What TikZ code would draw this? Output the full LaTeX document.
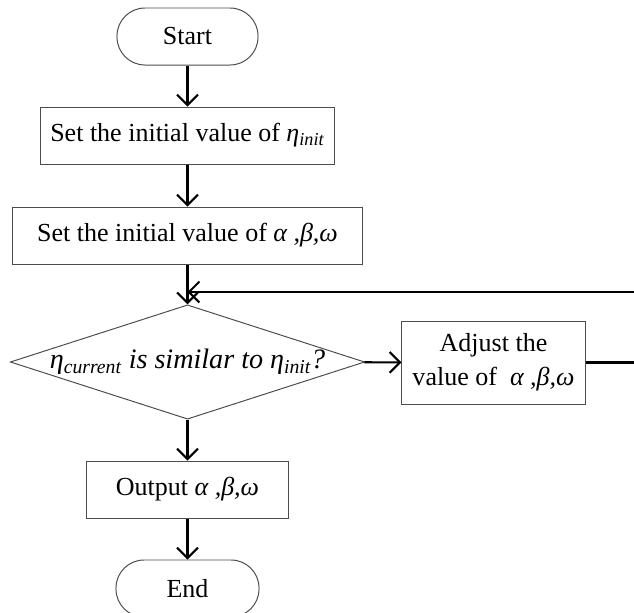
\documentclass[tikz,border=0pt]{standalone}
\usepackage{fontspec}
\setmainfont{Liberation Serif}
\usetikzlibrary{shapes.geometric,arrows.meta}

\tikzset{
  terminal/.style={draw=black!70, line width=0.7pt, rectangle, rounded corners=0.7cm,
    minimum height=1.425cm},
  process/.style={draw=black!70, line width=0.7pt, rectangle, minimum height=1.425cm, align=center},
  decision/.style={draw=black!70, line width=0.7pt, diamond, aspect=3.1, inner sep=0pt,
    minimum width=8.725cm, minimum height=2.775cm},
  flow/.style={line width=1.5pt, -{Straight Barb[length=2.6mm,width=5.2mm,line width=1.5pt]}}
}
\newcommand{\grk}[1]{\textit{#1}}
\newcommand{\sub}[1]{\textsubscript{\textit{#1}}}

\begin{document}
\begin{tikzpicture}[x=0.025cm, y=-0.025cm, font=\fontsize{18.5}{24}\selectfont]
\clip (0,0) rectangle (634,613);

\def\midx{187.5}

\node[terminal, minimum width=3.525cm] (start) at (\midx,36.5) {Start};
\node[process, minimum width=7.325cm] (init) at (\midx,135.5) {Set the initial value of \grk{η}\sub{init}};
\node[process, minimum width=8.75cm] (params) at (\midx,235.5) {Set the initial value of \grk{α ,β,ω}};
\node[decision, font=\fontsize{20}{24}\selectfont] (check) at (\midx,362) {\textit{η\sub{current} is similar to η\sub{init}?}};
\node[process, minimum width=4.575cm, minimum height=2.075cm] (adjust) at (493.5,362.5) {Adjust the\\value of ~\grk{α ,β,ω}};
\node[process, minimum width=5.05cm] (output) at (\midx,489.5) {Output \grk{α ,β,ω}};
\node[terminal, minimum width=3.575cm] (end) at (\midx,588.5) {End};

% loop back past the right edge
\coordinate (loopr) at (645,362.5);
\coordinate (loopt) at (645,292);
\coordinate (join) at (\midx,292);

\draw[flow] (start) -- (init);
\draw[flow] (init) -- (params);
\draw[flow] (params) -- (check);
\draw[flow] (check) -- (adjust);
\draw[flow] (adjust.east) -- (loopr) -- (loopt) -- (join);
\draw[flow] (check) -- (output);
\draw[flow] (output) -- (end);

\end{tikzpicture}
\end{document}
